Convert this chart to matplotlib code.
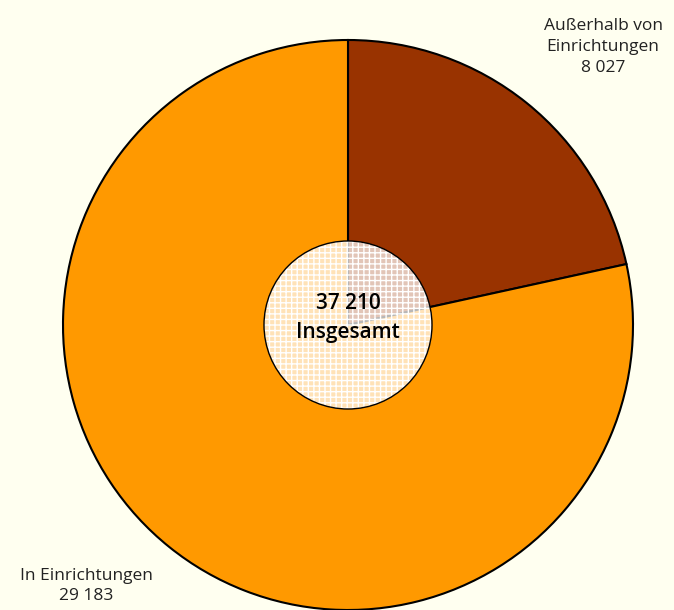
import matplotlib
matplotlib.use("Agg")
import matplotlib.pyplot as plt
from matplotlib.patches import Circle

# Daten
labels = ["Außerhalb von\nEinrichtungen\n8 027", "In Einrichtungen\n29 183"]
values = [8027, 29183]
colors = ["#993300", "#FF9900"]
total_label = "37 210\nInsgesamt"

plt.rcParams['font.family'] = ['Open Sans', 'DejaVu Sans']
plt.rcParams['hatch.linewidth'] = 1.0

W, H = 674, 610
fig = plt.figure(figsize=(W / 100, H / 100), dpi=100, facecolor="#FFFFF0")
ax = fig.add_axes([0, 0, 1, 1])

cx, cy, r = 348, 325, 285
# y-Achse ist gespiegelt -> Winkel gespiegelt
ax.pie(values, colors=colors, startangle=-90, counterclock=True,
       center=(cx, cy), radius=r, frame=True,
       wedgeprops=dict(edgecolor="black", linewidth=1.5))
ax.set_xlim(0, W)
ax.set_ylim(H, 0)
ax.set_aspect("equal")
ax.axis("off")

# Innerer Kreis (halbtransparent, Gitter)
ax.add_patch(Circle((cx, cy), 84, facecolor=(1, 1, 1, 0.72), edgecolor="white",
                    linewidth=0, hatch="+++", zorder=5))
ax.add_patch(Circle((cx, cy), 84, facecolor="none", edgecolor="black",
                    linewidth=1.0, zorder=6))
ax.text(cx, cy - 7, total_label, ha="center", va="center", fontsize=15,
        fontweight="semibold", linespacing=1.45, zorder=7)

# Beschriftungen
ax.text(603, 47, labels[0], ha="center", va="center", fontsize=12.5,
        linespacing=1.4, color="#222222")
ax.text(86, 586, labels[1], ha="center", va="center", fontsize=12.5,
        linespacing=1.4, color="#222222")

fig.savefig("out.png", dpi=100, facecolor=fig.get_facecolor())
